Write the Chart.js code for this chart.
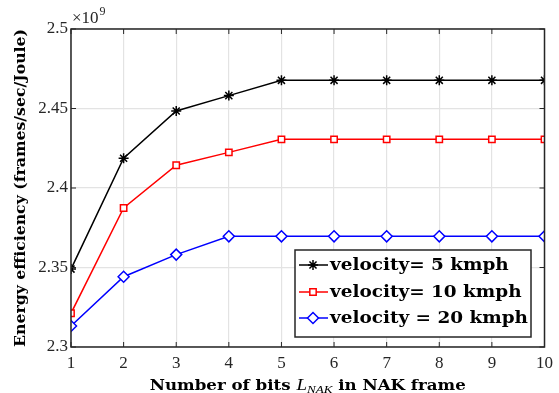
<!DOCTYPE html>
<html>
<head>
<meta charset="utf-8">
<script src="https://cdn.jsdelivr.net/npm/chart.js@4.4.1/dist/chart.umd.min.js"></script>
<style>
  html, body { margin: 0; padding: 0; background: #fff; }
  #wrap { width: 559px; height: 393px; position: relative; }
</style>
</head>
<body>
<div id="wrap"><canvas id="nak-chart"></canvas></div>
<script>
// data (energy efficiency in units of 1e9 frames/sec/Joule)
const nakBits = [1, 2, 3, 4, 5, 6, 7, 8, 9, 10];
const vel5 = [2.349, 2.4187, 2.4484, 2.4581, 2.4677, 2.4677, 2.4677, 2.4677, 2.4677, 2.4677];
const vel10 = [2.3212, 2.3874, 2.4143, 2.4224, 2.4306, 2.4306, 2.4306, 2.4306, 2.4306, 2.4306];
const vel20 = [2.3132, 2.3442, 2.3581, 2.3696, 2.3696, 2.3696, 2.3696, 2.3696, 2.3696, 2.3696];
const yTicks = [2.3, 2.35, 2.4, 2.45, 2.5];
const yTickLabels = ['2.3', '2.35', '2.4', '2.45', '2.5'];
const xTickLabels = ['1', '2', '3', '4', '5', '6', '7', '8', '9', '10'];
const seriesNames = ['velocity= 5 kmph', 'velocity= 10 kmph', 'velocity = 20 kmph'];

const serif = '"Liberation Serif", "DejaVu Serif", serif';
const boldSerif = '"DejaVu Serif", serif';
const axisColor = '#262626';

function toPoints(ys) {
    return nakBits.map((x, i) => ({ x: x, y: ys[i] }));
}

// draw a run of text pieces, stretched horizontally to a given width
function drawStretched(ctx, parts, x, y, width, align) {
    let total = 0;
    parts.forEach(p => { ctx.font = p.f; p.w = ctx.measureText(p.t).width; total += p.w; });
    const sx = width ? width / total : 1;
    const w = total * sx;
    const x0 = align === 'center' ? x - w / 2 : x;
    ctx.save();
    ctx.translate(x0, y);
    ctx.scale(sx, 1);
    ctx.textAlign = 'left';
    let cx = 0;
    parts.forEach(p => { ctx.font = p.f; ctx.fillText(p.t, cx, p.dy || 0); cx += p.w; });
    ctx.restore();
}

// frame, inward ticks, exponent, titles and legend
const decorPlugin = {
    id: 'decor',
    afterDatasetsDraw(chart) {
        const ctx = chart.ctx;
        const a = chart.chartArea;
        const xs = chart.scales.x;
        const ys = chart.scales.y;
        ctx.save();

        // box + inward ticks
        ctx.strokeStyle = axisColor;
        ctx.lineWidth = 1.5;
        ctx.strokeRect(a.left, a.top, a.right - a.left, a.bottom - a.top);
        ctx.lineWidth = 1;
        ctx.beginPath();
        nakBits.forEach(v => {
            const px = xs.getPixelForValue(v);
            ctx.moveTo(px, a.bottom); ctx.lineTo(px, a.bottom - 5);
            ctx.moveTo(px, a.top); ctx.lineTo(px, a.top + 5);
        });
        yTicks.forEach(v => {
            const py = ys.getPixelForValue(v);
            ctx.moveTo(a.left, py); ctx.lineTo(a.left + 5, py);
            ctx.moveTo(a.right, py); ctx.lineTo(a.right - 5, py);
        });
        ctx.stroke();

        // x10^9
        ctx.fillStyle = axisColor;
        ctx.textBaseline = 'alphabetic';
        ctx.textAlign = 'left';
        ctx.font = '17px ' + serif;
        ctx.fillText('\u00d710', a.left + 1, a.top - 6);
        const w10 = ctx.measureText('\u00d710').width;
        ctx.font = '12px ' + serif;
        ctx.fillText('9', a.left + 1 + w10 + 1, a.top - 14);

        // x axis title with subscript
        ctx.fillStyle = '#000';
        drawStretched(ctx, [
            { t: 'Number of bits ', f: 'bold 14px ' + boldSerif },
            { t: 'L', f: 'italic 16px ' + serif },
            { t: 'NAK', f: 'italic 11px ' + serif, dy: 3 },
            { t: ' in NAK frame', f: 'bold 14px ' + boldSerif }
        ], (a.left + a.right) / 2, 390, 316, 'center');

        // y axis title
        ctx.save();
        ctx.translate(25, (a.top + a.bottom) / 2);
        ctx.rotate(-Math.PI / 2);
        drawStretched(ctx, [
            { t: 'Energy efficiency (frames/sec/Joule)', f: 'bold 14px ' + boldSerif }
        ], 0, 0, 318, 'center');
        ctx.restore();

        // legend
        const lx = 295, ly = 250, lw = 236, lh = 87;
        ctx.fillStyle = '#fff';
        ctx.fillRect(lx, ly, lw, lh);
        ctx.strokeStyle = axisColor;
        ctx.lineWidth = 1.5;
        ctx.strokeRect(lx, ly, lw, lh);
        const rowY = [265, 292, 318];
        ctx.font = 'bold 16px ' + boldSerif;
        const legScale = 198 / ctx.measureText(seriesNames[2]).width;
        chart.data.datasets.forEach((ds, i) => {
            const y = rowY[i];
            ctx.strokeStyle = ds.borderColor;
            ctx.lineWidth = 1.5;
            ctx.beginPath();
            ctx.moveTo(lx + 4, y); ctx.lineTo(lx + 33, y);
            ctx.stroke();
            ctx.fillStyle = '#fff';
            Chart.helpers.drawPoint(ctx, {
                pointStyle: ds.pointStyle,
                radius: ds.pointRadius,
                borderWidth: ds.pointBorderWidth
            }, lx + 18, y);
            ctx.fillStyle = '#000';
            ctx.textBaseline = 'middle';
            ctx.font = 'bold 16px ' + boldSerif;
            const w = ctx.measureText(ds.label).width * legScale;
            drawStretched(ctx, [{ t: ds.label, f: 'bold 16px ' + boldSerif }], lx + 35, y + 1, w, 'left');
        });
        ctx.restore();
    }
};

function makeSet(label, ys, color, style, radius) {
    return {
        label: label,
        data: toPoints(ys),
        borderColor: color,
        backgroundColor: '#fff',
        borderWidth: 1.5,
        pointStyle: style,
        pointRadius: radius,
        pointBorderWidth: 1.5,
        pointBorderColor: color,
        pointBackgroundColor: '#fff',
        tension: 0
    };
}

const ctx = document.getElementById('nak-chart').getContext('2d');
new Chart(ctx, {
    type: 'line',
    data: {
        datasets: [
            makeSet(seriesNames[0], vel5, '#000000', 'star', 5),
            makeSet(seriesNames[1], vel10, '#ff0000', 'rect', 4.5),
            makeSet(seriesNames[2], vel20, '#0000ff', 'rectRot', 5.5)
        ]
    },
    options: {
        responsive: true,
        maintainAspectRatio: false,
        animation: false,
        layout: { padding: { left: 0, top: 29, right: 10, bottom: 0 } },
        scales: {
            x: {
                type: 'linear',
                min: 1,
                max: 10,
                afterBuildTicks: s => { s.ticks = nakBits.map(v => ({ value: v })); },
                afterFit: s => { s.height = 46; },
                grid: { color: '#e3e3e3', lineWidth: 1.2, drawTicks: false },
                border: { display: false },
                ticks: {
                    padding: 6,
                    color: axisColor,
                    font: { family: serif, size: 17 },
                    maxRotation: 0,
                    callback: (v, i) => xTickLabels[i]
                }
            },
            y: {
                min: 2.3,
                max: 2.5,
                afterBuildTicks: s => { s.ticks = yTicks.map(v => ({ value: v })); },
                afterFit: s => { s.width = 71; },
                grid: { color: '#e3e3e3', lineWidth: 1.2, drawTicks: false },
                border: { display: false },
                ticks: {
                    padding: 3,
                    color: axisColor,
                    font: { family: serif, size: 17 },
                    callback: (v, i) => yTickLabels[i]
                }
            }
        },
        plugins: {
            legend: { display: false },
            tooltip: { enabled: false }
        }
    },
    plugins: [decorPlugin]
});
</script>
</body>
</html>
